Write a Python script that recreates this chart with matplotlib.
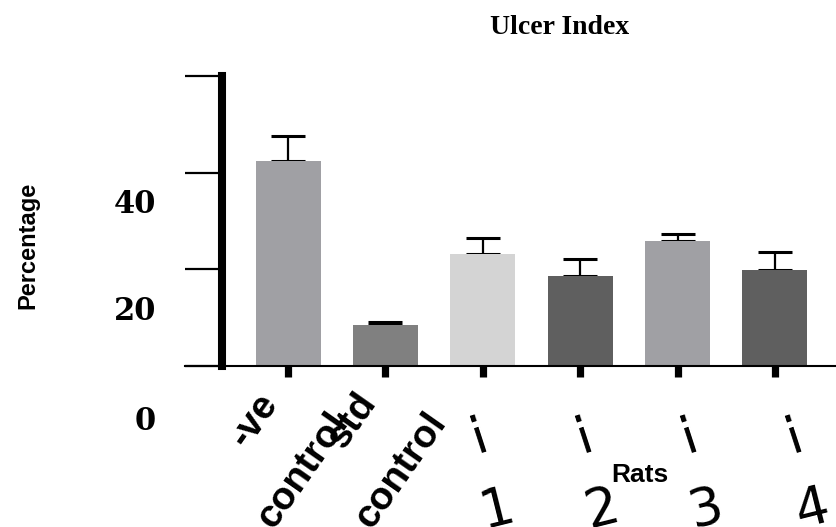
import matplotlib
matplotlib.use("Agg")
import matplotlib.pyplot as plt
import numpy as np

groups = ["-ve control", "std control", "Rat 1", "Rat 2", "Rat 3", "Rat 4"]
values = [42.5, 8.5, 23.2, 18.6, 25.8, 19.8]
errors = [5.0, 0.7, 3.3, 3.5, 1.6, 3.7]
colors = ["#a0a0a4", "#808080", "#d4d4d4", "#5f5f5f", "#a0a0a4", "#5f5f5f"]
ytick_vals = [0, 20, 40, 60]
ylabels = ["0", "20", "40"]
rat_numbers = ["1", "2", "3", "4"]

fig = plt.figure(figsize=(8.37, 5.27), dpi=100)
ax = fig.add_axes([222/837, (527-366)/527, (837-222)/837, (366-76)/527])
x = np.arange(len(values))
ax.bar(x, values, width=0.667, color=colors, zorder=2)
ax.errorbar(x, values, yerr=[np.zeros(len(errors)), errors], fmt="none",
            ecolor="black", elinewidth=1.6, capsize=12, capthick=2.2, zorder=1)

ax.set_xlim(-0.678, 5.637)
ax.set_ylim(0, 60)
ax.set_yticks(ytick_vals)
ax.set_yticklabels([])
ax.set_xticks(x)
ax.set_xticklabels([])
for s in ["top", "right"]:
    ax.spines[s].set_visible(False)
ax.spines["left"].set_linewidth(5.8)
ax.spines["bottom"].set_linewidth(1.5)
ax.spines["bottom"].set_bounds(-0.678 - 0.38, 5.637)
ax.spines["bottom"].set_clip_on(False)
ax.tick_params(axis="y", length=27, width=1.6, direction="out", color="black")
ax.tick_params(axis="x", length=8, width=5.2, direction="out", color="black")

# y tick labels (displaced, as in reference)
ypix = {"40": 205, "20": 311, "0": 421}
for lab in ylabels:
    fig.text(156/837, 1 - ypix[lab]/527, lab, ha="right", va="center",
             fontsize=22, fontweight="bold", family="DejaVu Serif")

fig.text(560/837, 1 - 28/527, "Ulcer Index", ha="center", va="center",
         fontsize=20, fontweight="bold", family="Liberation Serif")
fig.text(28/837, 1 - 245/527, "Percentage", ha="center", va="center",
         rotation=90, fontsize=17, fontweight="bold", family="Liberation Sans")
fig.text(640/837, 1 - 475/527, "Rats", ha="center", va="center",
         fontsize=19, fontweight="bold", family="Liberation Sans")

# control labels
lab_font = dict(fontsize=28, fontweight="bold", family="Liberation Sans",
                rotation=55, ha="center", va="center", rotation_mode="anchor",
                annotation_clip=False)
ctrl_parts = [("-ve", "control"), ("std", "control")]
for i, (a, b) in enumerate(ctrl_parts):
    ax.annotate(a, xy=(i, 0), xycoords="data", xytext=(-24, -39),
                textcoords="offset points", **lab_font)
    ax.annotate(b, xy=(i, 0), xycoords="data", xytext=(11, -75),
                textcoords="offset points", **lab_font)

# rat labels
for k, num in enumerate(rat_numbers):
    i = k + 2
    ax.annotate("\u00a1", xy=(i, 0), xycoords="data",
                xytext=((-6 + 7.5*k)*0.72, -60*0.72), textcoords="offset points",
                fontsize=38, family="Liberation Sans Narrow", rotation=18,
                ha="center", va="center", annotation_clip=False)
    ax.annotate(num, xy=(i, 0), xycoords="data",
                xytext=((14 + 7.7*k)*0.72, -143*0.72), textcoords="offset points",
                fontsize=38, family="Liberation Sans Narrow", rotation=14,
                ha="center", va="center", annotation_clip=False)

fig.savefig("out.png", dpi=100)
